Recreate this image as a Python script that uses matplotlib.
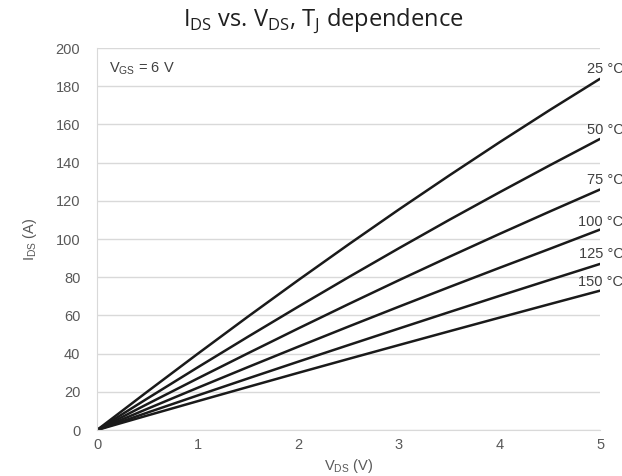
import numpy as np
import matplotlib.pyplot as plt

plt.rcParams['font.family'] = ['Liberation Sans', 'DejaVu Sans']

# drain-source voltage (V)
vds = [0, 0.5, 1, 1.5, 2, 2.5, 3, 3.5, 4, 4.5, 5]

# drain current (A) for each junction temperature, V_GS = 6 V
temps = ['25 °C', '50 °C', '75 °C', '100 °C', '125 °C', '150 °C']
ids_25 = [0, 20.1, 39.9, 59.4, 78.5, 97.2, 115.5, 133.3, 150.7, 167.6, 184]
ids_50 = [0, 16.5, 32.8, 48.85, 64.6, 80.05, 95.2, 110.05, 124.5, 138.65, 152.5]
ids_75 = [0, 13.6, 27.0, 40.2, 53.2, 65.95, 78.45, 90.7, 102.7, 114.45, 126.0]
ids_100 = [0, 11.1, 22.1, 32.95, 43.65, 54.2, 64.6, 74.85, 84.95, 94.9, 105]
ids_125 = [0, 9.1, 18.1, 27.0, 35.8, 44.5, 53.15, 61.75, 70.25, 78.65, 87.0]
ids_150 = [0, 7.6, 15.1, 22.55, 29.95, 37.25, 44.5, 51.7, 58.85, 65.95, 73.0]
curves = [ids_25, ids_50, ids_75, ids_100, ids_125, ids_150]
label_y = [189, 157, 131, 109, 92, 77.5]

xticks = [0, 1, 2, 3, 4, 5]
yticks = [0, 20, 40, 60, 80, 100, 120, 140, 160, 180, 200]

grey = '#595959'
grid = '#d9d9d9'

fig = plt.figure(figsize=(6.22, 4.76), dpi=100)
ax = fig.add_axes([0.156, 0.0966, 0.809, 0.8024])

for ids in curves:
    ax.plot(vds, ids, color='#1a1a1a', lw=1.8, solid_capstyle='butt')

for name, ly in zip(temps, label_y):
    ax.text(5.23, ly, name, ha='right', va='center', fontsize=10.5,
            color='#404040', clip_on=False)

ax.text(0.12, 189, r'V$_\mathregular{GS}$ = 6 V', ha='left', va='center',
        fontsize=10.5, color='#404040')

ax.set_xlim(0, 5)
ax.set_ylim(0, 200)
ax.set_xticks(xticks)
ax.set_yticks(yticks)
ax.tick_params(length=0, labelsize=10.5, labelcolor=grey)
ax.tick_params(axis='y', pad=12)
ax.tick_params(axis='x', pad=6)
ax.yaxis.grid(True, color=grid, lw=1)
ax.set_axisbelow(True)
for s in ['top', 'right']:
    ax.spines[s].set_visible(False)
for s in ['left', 'bottom']:
    ax.spines[s].set_color(grid)

ax.set_xlabel(r'V$_\mathregular{DS}$ (V)', fontsize=10.5, color=grey, labelpad=3)
ax.set_ylabel(r'I$_\mathregular{DS}$ (A)', fontsize=10.5, color=grey, labelpad=12)

fig.text(0.52, 0.955,
         r'I$_\mathregular{DS}$ vs. V$_\mathregular{DS}$, T$_\mathregular{J}$ dependence',
         ha='center', va='center', fontsize=17, color='#1f1f1f',
         family=['Open Sans', 'DejaVu Sans'])

fig.savefig('out.png', dpi=100)
